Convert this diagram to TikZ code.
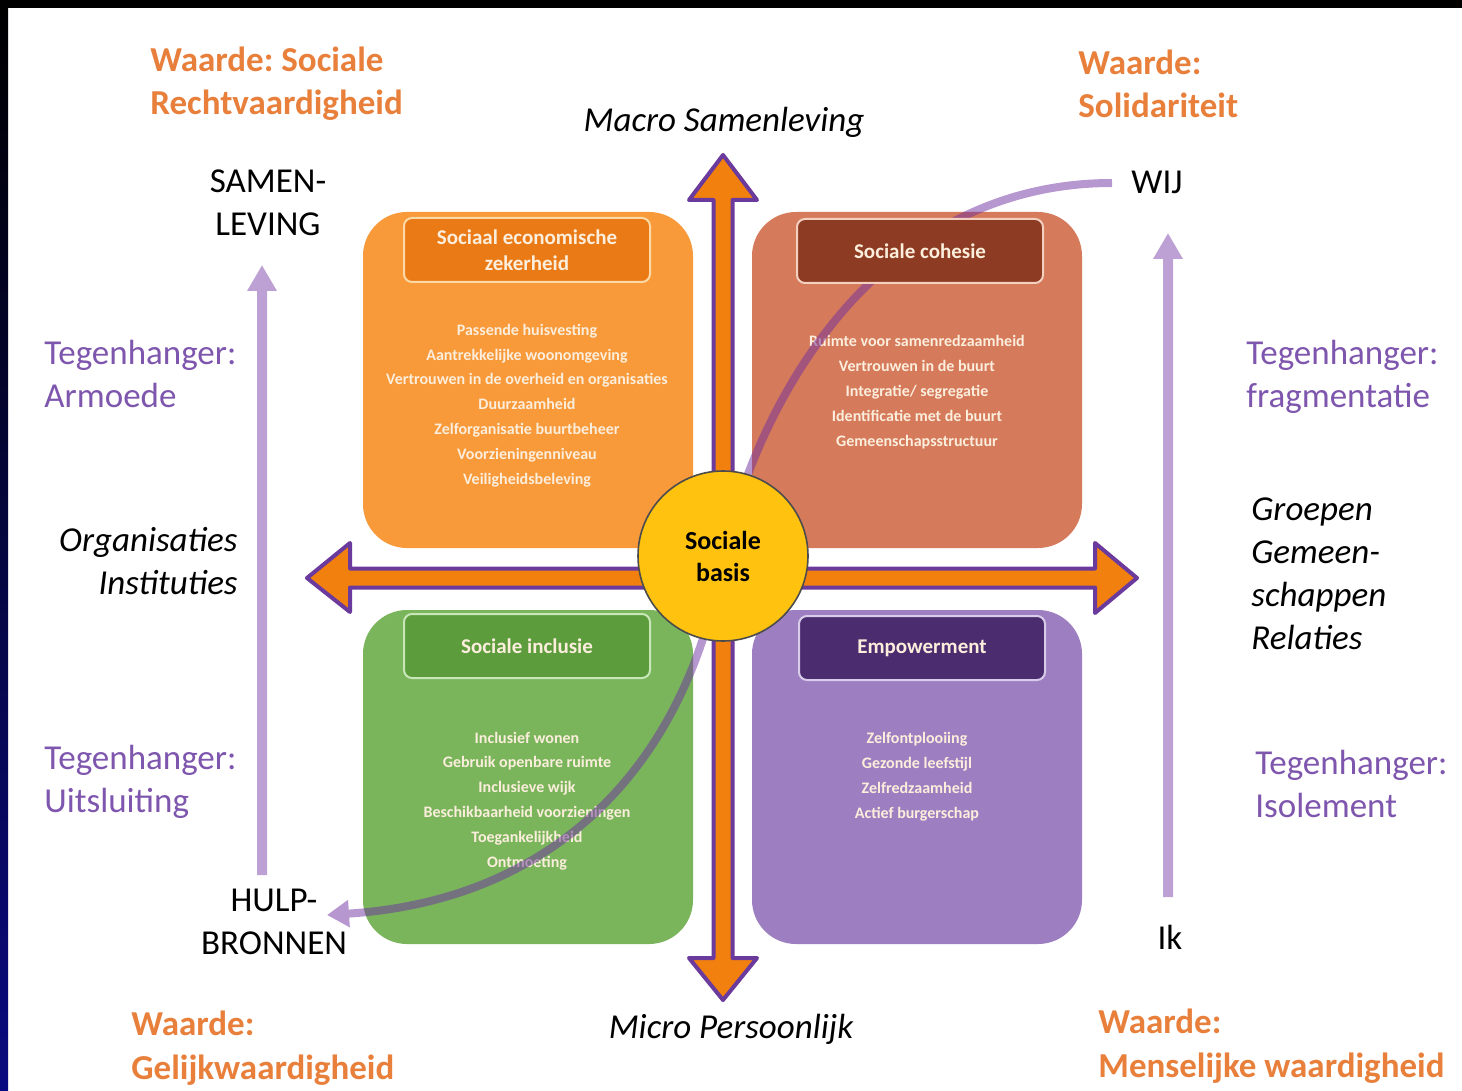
\documentclass[tikz,border=0pt]{standalone}
\usepackage{fontspec}
\setmainfont{Carlito}
\usetikzlibrary{arrows.meta}
\frenchspacing
\definecolor{WaardeOrange}{HTML}{E8803C}
\definecolor{TegenPurple}{HTML}{7E56AE}
\definecolor{ArrowOrange}{HTML}{F2800F}
\definecolor{ArrowPurple}{HTML}{6A3A9C}
\definecolor{LinePurple}{HTML}{7030A0}
\definecolor{SEBox}{HTML}{F8993A}
\definecolor{SEHead}{HTML}{EA7A16}
\definecolor{SEEdge}{HTML}{FBD9A6}
\definecolor{SCBox}{HTML}{D57A5B}
\definecolor{SCHead}{HTML}{8E3B23}
\definecolor{SCEdge}{HTML}{F3D0C0}
\definecolor{SIBox}{HTML}{7AB55C}
\definecolor{SIHead}{HTML}{5C9C3C}
\definecolor{SIEdge}{HTML}{C8E6B8}
\definecolor{EMBox}{HTML}{9D7FC1}
\definecolor{EMHead}{HTML}{4B2C6F}
\definecolor{EMEdge}{HTML}{D8CCEA}
\definecolor{BasisGold}{HTML}{FFC20E}
\definecolor{ItemText}{HTML}{FCEEDC}
\definecolor{SlideNavy}{HTML}{0A0A80}

\begin{document}
\begin{tikzpicture}[x=0.5pt, y=-0.5pt,
    sidetext/.style={inner sep=0pt, font=\fontsize{17.5}{21.5}\selectfont},
    waarde/.style={sidetext, font=\fontsize{17.5}{21.5}\selectfont\bfseries, text=WaardeOrange, align=left, anchor=base west},
    tegen/.style={sidetext, text=TegenPurple, align=left, anchor=base west},
    axistext/.style={sidetext, font=\fontsize{17.5}{21.5}\selectfont\itshape, anchor=base},
    pole/.style={sidetext, align=center, anchor=base},
    quad/.style={rounded corners=22pt, minimum width=165pt, minimum height=168pt, inner sep=0pt},
    head/.style={rounded corners=4pt, line width=1pt, minimum width=123pt, minimum height=32pt, inner sep=0pt,
      align=center, text=ItemText, font=\fontsize{10.5}{13}\selectfont\bfseries},
    items/.style={align=center, anchor=base, inner sep=0pt, text=ItemText, font=\fontsize{8}{12.4}\selectfont\bfseries},
    bigarrow/.style={fill=ArrowOrange, draw=ArrowPurple, line width=2pt, line join=round},
    flow/.style={line width=4pt, draw=LinePurple, -{Triangle[length=11pt, width=13pt]}},
    sidearrow/.style={line width=5pt, draw=LinePurple, -{Triangle[length=13pt, width=14pt]}}]

  \useasboundingbox (0,0) rectangle (1462,1091);
  \fill[white] (0,0) rectangle (1462,1091);
  \fill[black] (0,0) rectangle (1462,8);
  \shade[top color=black, bottom color=SlideNavy] (0,8) rectangle (8,1091);

  \node[quad, fill=SEBox] at (528,380) (se) {};
  \node[quad, fill=SCBox] at (917,380) (sc) {};
  \node[quad, fill=SIBox, minimum height=167pt] at (528,777) (si) {};
  \node[quad, fill=EMBox, minimum height=167pt] at (917,777) (em) {};

  \node[items] at (527,484) (seitems) {Passende huisvesting\\Aantrekkelijke woonomgeving\\Vertrouwen in de overheid en organisaties\\Duurzaamheid\\Zelforganisatie buurtbeheer\\Voorzieningenniveau\\Veiligheidsbeleving};
  \node[items] at (917,446) (scitems) {Ruimte voor samenredzaamheid\\Vertrouwen in de buurt\\Integratie/ segregatie\\Identificatie met de buurt\\Gemeenschapsstructuur};
  \node[items] at (527,867) (siitems) {Inclusief wonen\\Gebruik openbare ruimte\\Inclusieve wijk\\Beschikbaarheid voorzieningen\\Toegankelijkheid\\Ontmoeting};
  \node[items] at (917,818) (emitems) {Zelfontplooiing\\Gezonde leefstijl\\Zelfredzaamheid\\Actief burgerschap};

  \draw[bigarrow] (713.5,958) -- (713.5,200) -- (689,200) -- (723,155) -- (757,200) -- (732.5,200)
    -- (732.5,958) -- (757,958) -- (723,1000) -- (689,958) -- cycle;
  \draw[bigarrow] (350,587.5) -- (350,612) -- (307,578) -- (350,543) -- (350,568.5) -- (1095,568.5)
    -- (1095,543) -- (1137,578) -- (1095,613) -- (1095,587.5) -- cycle;

  \node[pole] at (1157,194) (wij) {WIJ};
  \node[pole] at (274,954) (hulp) {HULP-\\BRONNEN};
  \coordinate (wijend) at (1112,183);
  \coordinate (hulptip) at (327,915);
  \begin{scope}[transparency group, opacity=0.5]
    \draw[flow] (wijend) .. controls (890,183) and (765,380) .. (724,552)
      .. controls (690,760) and (560,900) .. (hulptip);
  \end{scope}

  \node[head, fill=SEHead, draw=SEEdge] at (527,250) (sehead) {Sociaal economische\\zekerheid};
  \node[head, fill=SCHead, draw=SCEdge] at (920,251) (schead) {Sociale cohesie};
  \node[head, fill=SIHead, draw=SIEdge] at (527,646) (sihead) {Sociale inclusie};
  \node[head, fill=EMHead, draw=EMEdge] at (922,648) (emhead) {Empowerment};

  \node[circle, fill=BasisGold, draw=black!70, line width=0.8pt, minimum size=85pt, inner sep=0pt,
    align=center, font=\fontsize{13}{16}\selectfont\bfseries] at (723,556) (basis) {Sociale\\basis};

  \node[waarde] at (150,115) (wsociale) {Waarde: Sociale\\Rechtvaardigheid};
  \node[waarde] at (1078,118) (wsolid) {Waarde:\\Solidariteit};
  \node[waarde, font=\fontsize{17.5}{22}\selectfont\bfseries] at (131,1079) (wgelijk) {Waarde:\\Gelijkwaardigheid};
  \node[waarde, font=\fontsize{17.5}{22}\selectfont\bfseries] at (1098,1077) (wmens) {Waarde:\\Menselijke waardigheid};

  \node[axistext] at (724,132) (macro) {Macro Samenleving};
  \node[axistext] at (731,1038) (micro) {Micro Persoonlijk};

  \node[pole] at (268,236) (samen) {SAMEN-\\LEVING};
  \node[pole] at (1170,949) (ik) {Ik};

  \node[tegen] at (44,408) (tarmoede) {Tegenhanger:\\Armoede};
  \node[tegen] at (1246,408) (tfrag) {Tegenhanger:\\fragmentatie};
  \node[tegen] at (44,812) (tuitsl) {Tegenhanger:\\Uitsluiting};
  \node[tegen] at (1255,817) (tisol) {Tegenhanger:\\Isolement};

  \node[axistext, align=right, anchor=base east] at (238,594) (orgs) {Organisaties\\Instituties};
  \node[axistext, align=left, anchor=base west] at (1251,649) (groepen) {Groepen\\Gemeen-\\schappen\\Relaties};

  \coordinate (leftlow) at (262,875);
  \coordinate (lefthigh) at (262,265);
  \coordinate (rightlow) at (1168,897);
  \coordinate (righthigh) at (1168,233);
  \begin{scope}[transparency group, opacity=0.45]
    \draw[sidearrow] (leftlow) -- (lefthigh);
    \draw[sidearrow] (rightlow) -- (righthigh);
  \end{scope}
\end{tikzpicture}
\end{document}
